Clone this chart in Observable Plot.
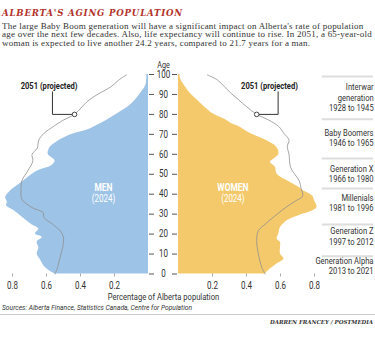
<!DOCTYPE html>
<html><head><meta charset="utf-8">
<script src="https://cdn.jsdelivr.net/npm/d3@7"></script>
<script src="https://cdn.jsdelivr.net/npm/@observablehq/plot@0.6"></script>
<style>
body{margin:0;background:#fff;width:375px;height:344px;position:relative;overflow:hidden}
.abs{position:absolute;white-space:nowrap}
#title{left:2px;top:7.5px;line-height:12px;font:italic bold 8.6px "DejaVu Serif",serif;color:#b3322b}
.sub{left:2px;line-height:9px;font-size:9px;font-family:"Liberation Serif",serif;color:#333}
#src{left:2px;top:303px;line-height:9px;font-size:7.5px;font-style:italic;font-family:Roboto,sans-serif;color:#333;transform-origin:left center}
#rule{left:0;top:314px;width:375px;height:1px;background:#ccc}
#credit{right:2px;top:319px;line-height:8px;font:italic bold 5.5px "DejaVu Serif",serif;color:#333}
#chart{left:0;top:56px}
</style></head>
<body>
<div id="title" class="abs" data-w="181">ALBERTA'S AGING POPULATION</div>
<div class="abs sub" style="top:21.5px">The large Baby Boom generation will have a significant impact on Alberta's rate of population</div>
<div class="abs sub" id="sub2" style="top:30.3px">age over the next few decades. Also, life expectancy will continue to rise. In 2051, a 65-year-old</div>
<div class="abs sub" style="top:39.2px">woman is expected to live another 24.2 years, compared to 21.7 years for a man.</div>
<div id="chart" class="abs"></div>
<div id="src" class="abs">Sources: Alberta Finance, Statistics Canada, Centre for Population</div>
<div id="rule" class="abs"></div>
<div id="credit" class="abs" data-w="103">DARREN FRANCEY / POSTMEDIA</div>
<script>
// [age, % of Alberta population]
const men2024 = [[0,0.55],[2,0.59],[4,0.615],[7,0.635],[10,0.655],[13,0.645],[16,0.655],[18.3,0.625],[20,0.665],[22.5,0.645],[25,0.69],[28.3,0.74],[31.7,0.79],[34.2,0.835],[35.8,0.83],[38.3,0.84],[41.7,0.81],[45,0.76],[48.3,0.71],[51.7,0.65],[54.2,0.57],[56.7,0.55],[60,0.59],[63.3,0.58],[65.6,0.55],[68.9,0.48],[70.5,0.43],[72.2,0.36],[75.5,0.28],[80.5,0.18],[85.5,0.096],[90.5,0.047],[94.7,0.015],[100,0.01]];
const women2024 = [[0,0.51],[2.5,0.54],[5,0.58],[7.5,0.62],[10,0.60],[13.3,0.60],[15.8,0.60],[17.5,0.58],[20,0.59],[23.3,0.60],[26.7,0.64],[29,0.70],[31.7,0.79],[33.3,0.815],[36.7,0.80],[39,0.79],[41.7,0.735],[43.3,0.71],[46.7,0.64],[50,0.58],[53.5,0.57],[56,0.54],[57.5,0.56],[60,0.59],[63.3,0.58],[67,0.515],[70.5,0.42],[73.9,0.355],[75.5,0.31],[77.2,0.28],[80.5,0.20],[83.9,0.15],[87.2,0.11],[90.5,0.07],[93.9,0.04],[97.2,0.015],[100,0.008]];
const men2051 = [[0,0.55],[3.3,0.535],[6.7,0.525],[10,0.515],[13.3,0.505],[18.3,0.50],[21.7,0.52],[25,0.565],[28.3,0.615],[30.8,0.62],[33.3,0.685],[37.5,0.745],[41.7,0.75],[46.7,0.745],[51.7,0.71],[56.7,0.68],[60,0.685],[63,0.655],[67.2,0.645],[70.5,0.615],[73.9,0.56],[77.2,0.50],[80,0.435],[83.9,0.39],[87.2,0.35],[90.5,0.29],[93.9,0.22],[97.2,0.175],[99.8,0.13]];
const women2051 = [[0,0.51],[3.3,0.49],[10,0.47],[16.7,0.46],[21.7,0.47],[25,0.51],[30,0.58],[33.3,0.63],[36.7,0.69],[39,0.73],[43.3,0.72],[46.7,0.71],[53.3,0.66],[60,0.65],[63.9,0.64],[67.2,0.65],[70.5,0.62],[73.9,0.59],[77.2,0.53],[80,0.46],[83.9,0.40],[87.2,0.355],[90.5,0.31],[93.9,0.27],[97.2,0.23],[99.8,0.17]];
const ageTicks = [0,10,20,30,40,50,60,70,80,90,100];
const xTicks = [0.2,0.4,0.6,0.8];
const genLabels = ["Interwar\ngeneration\n1928 to 1945","Baby Boomers\n1946 to 1965","Generation X\n1966 to 1980","Millenials\n1981 to 1996","Generation Z\n1997 to 2012","Generation Alpha\n2013 to 2021"];
const genCenters = [88.5,68.2,50.1,35.7,19,4];
const genSeps = [99,77.6,57.9,42.9,24.8,8.9];
const markerAge = 80;

const SANS = 'Roboto, sans-serif';
const PX = 170;            // px per percentage unit
const G = 15 / PX;         // half-gap for age axis
const rows = a => a.map(([age, v]) => ({age, v}));
const menX = v => -G - v, womenX = v => G + v;
const m80 = men2051.find(d => d[0] === markerAge)[1];
const w80 = women2051.find(d => d[0] === markerAge)[1];
const lineStroke = "#8f8f8f";

const chart = Plot.plot({
  width: 375, height: 248,
  marginLeft: 0, marginRight: 2, marginTop: 18, marginBottom: 30.5,
  x: {domain: [-163 / PX, 210 / PX], axis: null},
  y: {domain: [0, 100], axis: null},
  style: {fontFamily: SANS, fontSize: "9px", color: "#333", background: "transparent", overflow: "visible"},
  marks: [
    Plot.areaX(rows(men2024), {y: "age", x1: -G, x2: d => menX(d.v), fill: "#9dc3e6", curve: "catmull-rom"}),
    Plot.areaX(rows(women2024), {y: "age", x1: G, x2: d => womenX(d.v), fill: "#f4c96b", curve: "catmull-rom"}),
    Plot.lineX(rows(men2051), {y: "age", x: d => menX(d.v), stroke: lineStroke, strokeWidth: 0.8, curve: "catmull-rom"}),
    Plot.lineX(rows(women2051), {y: "age", x: d => womenX(d.v), stroke: lineStroke, strokeWidth: 0.8, curve: "catmull-rom"}),
    // leader lines
    Plot.line([[menX(0.565), 91.3], [menX(0.565), markerAge], [menX(m80), markerAge]], {stroke: "#333", strokeWidth: 1}),
    Plot.line([[womenX(0.586), 91.3], [womenX(0.586), markerAge], [womenX(w80), markerAge]], {stroke: "#333", strokeWidth: 1}),
    Plot.dot([[menX(m80), markerAge], [womenX(w80), markerAge]], {r: 2.3, fill: "white", stroke: "#333", strokeWidth: 0.9}),
    Plot.text(["2051 (projected)"], {x: menX(0.585), y: 94.3, fontWeight: "bold", fontSize: 9.5, fill: "#222"}),
    Plot.text(["2051 (projected)"], {x: womenX(0.535), y: 94.3, fontWeight: "bold", fontSize: 9.5, fill: "#222"}),
    // panel labels
    Plot.text(["MEN"], {x: menX(0.265), y: 43.4, fill: "white", fontWeight: "bold", fontSize: 10.5}),
    Plot.text(["(2024)"], {x: menX(0.265), y: 37.6, fill: "white", fontSize: 10}),
    Plot.text(["WOMEN"], {x: womenX(0.32), y: 43.4, fill: "white", fontWeight: "bold", fontSize: 10.5}),
    Plot.text(["(2024)"], {x: womenX(0.32), y: 37.6, fill: "white", fontSize: 10}),
    // centre age axis
    Plot.ruleY(ageTicks, {x1: -14 / PX, x2: -9 / PX, stroke: "#555"}),
    Plot.ruleY(ageTicks, {x1: 9 / PX, x2: 14 / PX, stroke: "#555"}),
    Plot.text(ageTicks, {x: 0, y: d => d, text: d => String(d), fill: "#333", fontSize: 10}),
    Plot.text(["Age"], {x: 0, frameAnchor: "top", dy: -13, fill: "#333", fontSize: 9}),
    // bottom axis
    Plot.axisX([...xTicks.map(menX), ...xTicks.map(womenX)], {
      tickFormat: d => (Math.abs(d) - G).toFixed(1), tickSize: 3, tickPadding: 5,
      stroke: "#aaa", fill: "#333", fontSize: 10, label: null
    }),
    Plot.text(["Percentage of Alberta population"], {x: 0, frameAnchor: "bottom", dy: 25.5, fill: "#333", fontSize: 9.5}),
    // generations
    Plot.ruleY(genSeps, {x1: (321.7 - 163) / PX, x2: 210 / PX, stroke: "#ddd", strokeWidth: 2}),
    Plot.text(genLabels.map((t, i) => ({t, age: genCenters[i]})), {
      frameAnchor: "right", y: "age", text: "t", textAnchor: "end", lineHeight: 1.08, fontSize: 9.5, fill: "#333"
    })
  ]
});
document.getElementById("chart").appendChild(chart);

// narrow the sans text horizontally (the original uses a condensed face)
function condense(svg, s) {
  const ns = "http://www.w3.org/2000/svg";
  svg.querySelectorAll("text").forEach(t => {
    const r = t.getBoundingClientRect();
    const a = getComputedStyle(t).textAnchor;
    const sx = a === "end" ? r.right : a === "middle" ? r.left + r.width / 2 : r.left;
    const p = svg.createSVGPoint(); p.x = sx; p.y = r.top;
    const q = p.matrixTransform(t.parentNode.getScreenCTM().inverse());
    const g = document.createElementNS(ns, "g");
    g.setAttribute("transform", `translate(${q.x},0) scale(${s},1) translate(${-q.x},0)`);
    t.parentNode.insertBefore(g, t); g.appendChild(t);
  });
}
condense(chart, 0.8);

// fit header/footer lines to widths measured in the reference
document.querySelectorAll("[data-w]").forEach(el => {
  const target = +el.dataset.w, n = el.textContent.length;
  const cur = el.getBoundingClientRect().width;
  el.style.letterSpacing = ((target - cur) / n) + "px";
});
// one common letter-spacing for the three subtitle lines
{
  const ref = document.getElementById("sub2");
  const ls = (370 - ref.getBoundingClientRect().width) / ref.textContent.length;
  document.querySelectorAll(".sub").forEach(el => el.style.letterSpacing = ls + "px");
}
{
  const src = document.getElementById("src");
  src.style.transform = `scaleX(${190 / src.getBoundingClientRect().width})`;
}
</script>
</body></html>
